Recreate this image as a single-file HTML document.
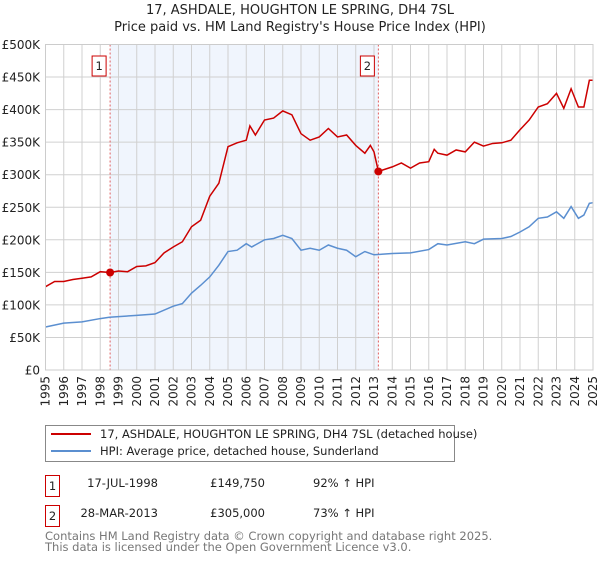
<!DOCTYPE html>
<html><head><meta charset="utf-8"><style>
body{margin:0;background:#fff;width:600px;height:560px;overflow:hidden;font-family:"DejaVu Sans","Liberation Sans",sans-serif;}
svg text{font-family:"DejaVu Sans","Liberation Sans",sans-serif;}
</style></head><body>
<svg id="c" width="600" height="560" viewBox="0 0 600 560" xmlns="http://www.w3.org/2000/svg">
<text x="300" y="14" text-anchor="middle" font-size="13" fill="#222">17, ASHDALE, HOUGHTON LE SPRING, DH4 7SL</text>
<text x="300" y="31" text-anchor="middle" font-size="13" fill="#222">Price paid vs. HM Land Registry's House Price Index (HPI)</text>
<g id="grid"></g><g id="series"></g><g id="axes"></g>
<g>
<rect x="45.5" y="425.5" width="409" height="36" fill="#fff" stroke="#888"/>
<line x1="51" y1="434" x2="91" y2="434" stroke="#cc0000" stroke-width="2"/>
<text x="100" y="438" font-size="11.5" fill="#222">17, ASHDALE, HOUGHTON LE SPRING, DH4 7SL (detached house)</text>
<line x1="51" y1="451" x2="91" y2="451" stroke="#5b8fd0" stroke-width="2"/>
<text x="100" y="455" font-size="11.5" fill="#222">HPI: Average price, detached house, Sunderland</text>
</g>
<g font-size="11.5" fill="#222">
<rect x="45.5" y="475.5" width="14" height="21" fill="#fff" stroke="#cc0000"/>
<text x="52.5" y="490" text-anchor="middle">1</text>
<text x="158" y="487" text-anchor="end">17-JUL-1998</text>
<text x="265" y="487" text-anchor="end">£149,750</text>
<text x="313" y="487">92% ↑ HPI</text>
<rect x="45.5" y="505.5" width="14" height="21" fill="#fff" stroke="#cc0000"/>
<text x="52.5" y="520" text-anchor="middle">2</text>
<text x="158" y="517" text-anchor="end">28-MAR-2013</text>
<text x="265" y="517" text-anchor="end">£305,000</text>
<text x="313" y="517">73% ↑ HPI</text>
</g>
<text x="45" y="540" font-size="11.5" fill="#777">Contains HM Land Registry data © Crown copyright and database right 2025.</text>
<text x="45" y="551" font-size="11.5" fill="#777">This data is licensed under the Open Government Licence v3.0.</text>
</svg>
<script>
const redYears=[1995,1995.5,1996,1996.5,1997,1997.5,1998,1998.54,1999,1999.5,2000,2000.5,2001,2001.5,2002,2002.5,2003,2003.5,2004,2004.5,2005,2005.5,2006,2006.2,2006.5,2007,2007.5,2008,2008.5,2009,2009.5,2010,2010.5,2011,2011.5,2012,2012.5,2012.8,2013,2013.24,2014,2014.5,2015,2015.5,2016,2016.3,2016.5,2017,2017.5,2018,2018.5,2019,2019.5,2020,2020.5,2021,2021.5,2022,2022.5,2023,2023.4,2023.8,2024.2,2024.5,2024.8,2025];
const redValues=[128,136,136,139,141,143,151,149.75,152,151,159,160,165,180,189,197,220,230,267,287,343,349,353,375,361,384,387,398,392,363,353,358,371,358,361,345,333,345,335,305,312,318,310,318,320,339,333,330,338,335,350,344,348,349,353,369,384,404,409,425,402,432,404,404,445,445];
const hpiYears=[1995,1996,1997,1998,1998.5,1999,2000,2001,2002,2002.5,2003,2003.5,2004,2004.5,2005,2005.5,2006,2006.3,2007,2007.5,2008,2008.5,2009,2009.5,2010,2010.5,2011,2011.5,2012,2012.5,2013,2013.5,2014,2015,2016,2016.5,2017,2018,2018.5,2019,2020,2020.5,2021,2021.5,2022,2022.5,2023,2023.4,2023.8,2024.2,2024.5,2024.8,2025];
const hpiValues=[66,72,74,79,81,82,84,86,98,102,118,130,143,161,182,184,194,189,200,202,207,202,184,187,184,192,187,184,174,182,177,178,179,180,185,194,192,197,194,201,202,205,212,220,233,235,243,233,251,233,238,256,257];
const saleYears=[1998.54,2013.24];
const saleValues=[149.75,305];
const saleLabels=["1","2"];
const yTicks=[0,50,100,150,200,250,300,350,400,450,500];
const yTickLabels=["£0","£50K","£100K","£150K","£200K","£250K","£300K","£350K","£400K","£450K","£500K"];
const xTicks=[1995,1996,1997,1998,1999,2000,2001,2002,2003,2004,2005,2006,2007,2008,2009,2010,2011,2012,2013,2014,2015,2016,2017,2018,2019,2020,2021,2022,2023,2024,2025];

const L=45.5,R=593,T=44.5,B=370;
const X=y=>L+(y-1995)/30*(R-L);
const Y=v=>B-v/500*(B-T);
const NS="http://www.w3.org/2000/svg";
function mk(tag,attrs,parent){const e=document.createElementNS(NS,tag);for(const k in attrs)e.setAttribute(k,attrs[k]);parent.appendChild(e);return e;}
const grid=document.getElementById('grid'),series=document.getElementById('series'),axes=document.getElementById('axes');

const bg=mk('rect',{x:L,y:T,width:R-L,height:B-T,fill:'#fff'},grid);


const shade=mk('rect',{x:X(saleYears[0]),y:T,width:X(saleYears[1])-X(saleYears[0]),height:B-T,fill:'#f0f5fd'},grid);


xTicks.forEach(t=>{const l=mk('line',{x1:X(t),x2:X(t),y1:T,y2:B,stroke:'#d0d0d0','stroke-width':1},grid);


const tx=mk('text',{x:0,y:0,'font-size':12,fill:'#222','text-anchor':'end',transform:`translate(${X(t)+4},${B+6}) rotate(-90)`},axes);tx.textContent=t;

});
yTicks.forEach((t,i)=>{const l=mk('line',{x1:L,x2:R,y1:Y(t),y2:Y(t),stroke:'#d0d0d0','stroke-width':1},grid);


const tx=mk('text',{x:40,y:Y(t)+4.5,'font-size':12,fill:'#222','text-anchor':'end'},axes);tx.textContent=yTickLabels[i];

});

saleYears.forEach((s,i)=>{const l=mk('line',{x1:X(s),x2:X(s),y1:T,y2:B,stroke:'#e06060','stroke-width':1,'stroke-dasharray':'2,2'},series);


const bx=X(s)-11;
const r=mk('rect',{x:bx-7,y:56,width:14,height:20,fill:'#fff',stroke:'#cc0000'},series);


const t=mk('text',{x:bx,y:70,'font-size':11.5,fill:'#222','text-anchor':'middle'},series);t.textContent=saleLabels[i];

});

const hp=mk('polyline',{points:hpiYears.map((y,i)=>X(y)+','+Y(hpiValues[i])).join(' '),fill:'none',stroke:'#5b8fd0','stroke-width':1.5},series);


const rp=mk('polyline',{points:redYears.map((y,i)=>X(y)+','+Y(redValues[i])).join(' '),fill:'none',stroke:'#cc0000','stroke-width':1.5},series);


saleYears.forEach((s,i)=>{const c=mk('circle',{cx:X(s),cy:Y(saleValues[i]),r:4,fill:'#cc0000'},series);

});
const fr=mk('rect',{x:L,y:T,width:R-L,height:B-T,fill:'none',stroke:'#ccc'},axes);


</script>
</body></html>
